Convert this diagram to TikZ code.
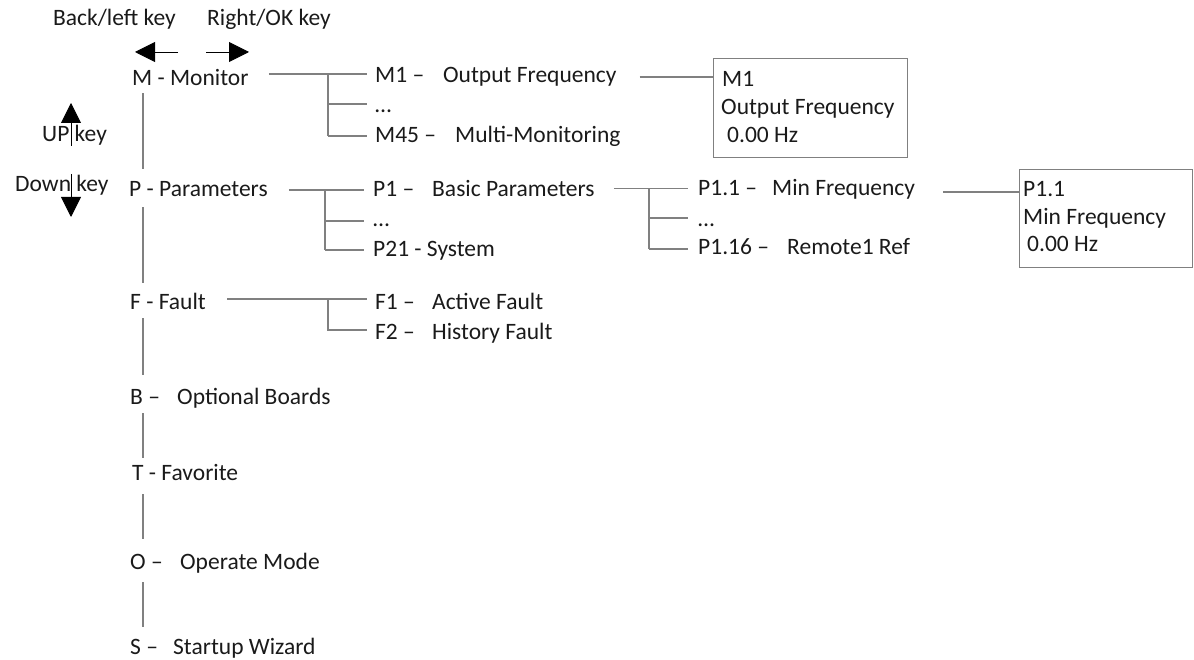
\documentclass[tikz,border=0pt]{standalone}
\usepackage{fontspec}
\setmainfont{Carlito}
\usetikzlibrary{arrows.meta,calc}
\definecolor{linegray}{HTML}{808080}
\definecolor{ink}{HTML}{1A1A1A}
\newcommand{\pfx}[2]{\makebox[#1][l]{#2}}
\begin{document}
\begin{tikzpicture}[x=1pt,y=-1pt,
  txt/.style={anchor=base west, inner sep=0pt, text height=16pt, text depth=6pt, text=ink, font=\fontsize{23.5}{28}\selectfont},
  conn/.style={draw=linegray, line width=1.3pt},
  keyarrow/.style={draw=black, line width=0.9pt, -{Triangle[length=20pt,width=20pt]}},
  valbox/.style={draw=linegray, line width=1.3pt, anchor=north west, inner sep=0pt}]
\useasboundingbox (0,0) rectangle (1194,660);

% key labels and arrows
\node[txt] (back)  at (53,26)  {Back/left key};
\node[txt] (right) at (207,26) {Right/OK key};
\node[txt] (up)    at (42,142) {UP key};
\node[txt] (down)  at (15,192) {Down key};
\coordinate (aL1) at (178,52); \coordinate (aL2) at (135,52);
\coordinate (aR1) at (206,52); \coordinate (aR2) at (249,52);
\coordinate (aU1) at (71,146); \coordinate (aU2) at (71,103);
\coordinate (aD1) at (71,174); \coordinate (aD2) at (71,217);
\draw[keyarrow] (aL1) -- (aL2);
\draw[keyarrow] (aR1) -- (aR2);
\draw[keyarrow] (aU1) -- (aU2);
\draw[keyarrow] (aD1) -- (aD2);

% main menu
\node[txt] (mon) at (132,86)  {M - Monitor};
\node[txt] (par) at (129,197) {P - Parameters};
\node[txt] (flt) at (130,309) {F - Fault};
\node[txt] (brd) at (130,404) {\pfx{47pt}{B –}Optional Boards};
\node[txt] (fav) at (132,480) {T - Favorite};
\node[txt] (opm) at (130,569) {\pfx{50pt}{O –}Operate Mode};
\node[txt] (stw) at (130,654) {\pfx{43pt}{S –}Startup Wizard};

\coordinate (vx) at (143,0);
\draw[conn] ($(mon.south -| vx)+(0,1)$) -- ($(par.north -| vx)+(0,-12)$);
\draw[conn] ($(par.south -| vx)+(0,4)$) -- ($(flt.north -| vx)+(0,-10)$);
\draw[conn] ($(flt.south -| vx)+(0,3)$) -- ($(brd.north -| vx)+(0,-13)$);
\draw[conn] ($(brd.south -| vx)+(0,3)$) -- ($(fav.north -| vx)+(0,-6)$);
\draw[conn] ($(fav.south -| vx)+(0,8)$) -- ($(opm.north -| vx)+(0,-14)$);
\draw[conn] ($(opm.south -| vx)+(0,7)$) -- ($(stw.north -| vx)+(0,-11)$);

% monitor submenu
\node[txt] (m1)    at (375,83)  {\pfx{68pt}{M1 –}Output Frequency};
\node[txt] (mdots) at (375,113) {…};
\node[txt] (m45)   at (375,143) {\pfx{80pt}{M45 –}Multi-Monitoring};
\coordinate (jM) at (328,74);
\coordinate (jM2) at (328,104);
\coordinate (jM3) at (328,136);
\draw[conn] ($(mon.east |- jM)+(20,0)$) -- ($(m1.west |- jM)+(-8,0)$);
\draw[conn] (jM) -- (jM3);
\draw[conn] (jM2) -- ($(mdots.west |- jM2)+(-8,0)$);
\draw[conn] (jM3) -- ($(m45.west |- jM3)+(-8,0)$);

\node[valbox, minimum width=194pt, minimum height=99pt] (bm) at (713,58) {};
\node[txt] (bm1) at (722,87)  {M1};
\node[txt] (bm2) at (721,115) {Output Frequency};
\node[txt] (bm3) at (727,143) {0.00 Hz};
\coordinate (yMb) at (0,77);
\draw[conn] ($(m1.east |- yMb)+(23,0)$) -- (bm.west |- yMb);

% parameters submenu
\node[txt] (p1)    at (373,197) {\pfx{59pt}{P1 –}Basic Parameters};
\node[txt] (pdots) at (373,227) {…};
\node[txt] (p21)   at (373,257) {P21 - System};
\coordinate (jP) at (325,190);
\coordinate (jP2) at (325,221);
\coordinate (jP3) at (325,250);
\draw[conn] ($(par.east |- jP)+(21,0)$) -- ($(p1.west |- jP)+(-9,0)$);
\draw[conn] (jP) -- (jP3);
\draw[conn] (jP2) -- ($(pdots.west |- jP2)+(-9,0)$);
\draw[conn] (jP3) -- ($(p21.west |- jP3)+(-9,0)$);

\node[txt] (p11)    at (698,196) {\pfx{74pt}{P1.1 –}Min Frequency};
\node[txt] (p1dots) at (698,227) {…};
\node[txt] (p116)   at (698,255) {\pfx{89pt}{P1.16 –}Remote1 Ref};
\coordinate (jQ) at (649,188.5);
\coordinate (jQ2) at (649,218);
\coordinate (jQ3) at (649,249);
\draw[conn] ($(p1.east |- jQ)+(19,0)$) -- ($(p11.west |- jQ)+(-10,0)$);
\draw[conn] (jQ) -- (jQ3);
\draw[conn] (jQ2) -- ($(p1dots.west |- jQ2)+(-10,0)$);
\draw[conn] (jQ3) -- ($(p116.west |- jQ3)+(-10,0)$);

\node[valbox, minimum width=173pt, minimum height=98pt] (bp) at (1019,169) {};
\node[txt] (bp1) at (1023,197) {P1.1};
\node[txt] (bp2) at (1023,225) {Min Frequency};
\node[txt] (bp3) at (1027,252) {0.00 Hz};
\coordinate (yPb) at (0,192);
\draw[conn] ($(p11.east |- yPb)+(28,0)$) -- (bp.west |- yPb);

% fault submenu
\node[txt] (f1) at (375,309) {\pfx{57pt}{F1 –}Active Fault};
\node[txt] (f2) at (375,339) {\pfx{57pt}{F2 –}History Fault};
\coordinate (jF) at (328,299);
\coordinate (jF2) at (328,330);
\draw[conn] ($(flt.east |- jF)+(21,0)$) -- ($(f1.west |- jF)+(-8,0)$);
\draw[conn] (jF) -- (jF2) -- ($(f2.west |- jF2)+(-8,0)$);
\end{tikzpicture}
\end{document}
